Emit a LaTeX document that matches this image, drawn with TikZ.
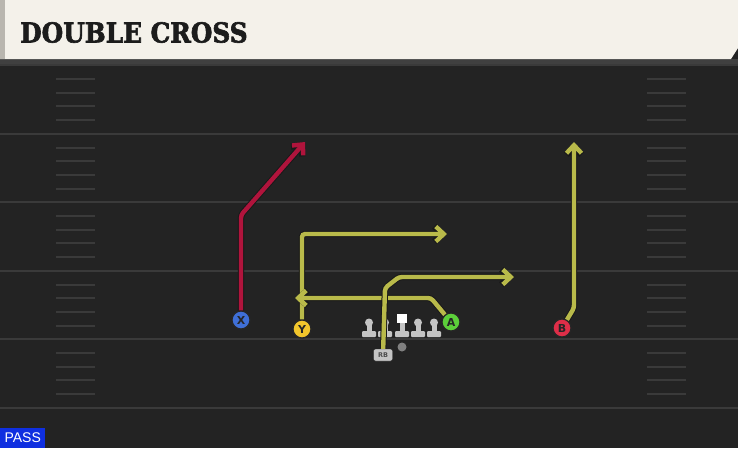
\documentclass[tikz,border=0pt]{standalone}
\usepackage{fontspec}
\setmainfont{DejaVu Sans}
\setsansfont{Liberation Sans}
\newfontfamily\titlefont{DejaVu Serif Bold}[FakeStretch=0.9, FakeBold=2.2]
\usetikzlibrary{arrows.meta}

\definecolor{fieldbg}{HTML}{232323}
\definecolor{yardline}{HTML}{3A3A3A}
\definecolor{headbg}{HTML}{F4F1EA}
\definecolor{headedge}{HTML}{B9B6AF}
\definecolor{titleink}{HTML}{1C1C1C}
\definecolor{xblue}{HTML}{3F6FD6}
\definecolor{yyellow}{HTML}{F2C62C}
\definecolor{agreen}{HTML}{5CCF3A}
\definecolor{bred}{HTML}{DE2E48}
\definecolor{redroute}{HTML}{B0143C}
\definecolor{yroute}{HTML}{B9BA4A}
\definecolor{linegray}{HTML}{C4C4C4}
\definecolor{passblue}{HTML}{0F2FE0}

\tikzset{
  player/.style={circle, draw=black!85, line width=1.2pt, minimum size=18pt, inner sep=0pt,
    font=\bfseries\fontsize{11}{11}\selectfont, text=black!85},
  route/.style={line width=4.4pt, rounded corners=3pt,
    -{Straight Barb[length=8pt, width=15pt]},
    preaction={draw=black!90, line width=6.4pt}},
  lineman/.style={fill=linegray},
  hash/.style={draw=yardline, line width=2pt},
}

\begin{document}
\begin{tikzpicture}[x=1pt, y=-1pt]
\useasboundingbox (0,0) rectangle (738,448);
\fill[fieldbg] (0,0) rectangle (738,448);

% yard lines and hashes
\foreach \yy in {65,133.5,202,270.5,338.5,408}
  \draw[yardline, line width=2pt] (0,\yy) -- (738,\yy);
\foreach \k in {0,...,4}
  \foreach \d in {14,27.5,41,55} {
    \draw[hash] (56,65+68.6*\k+\d) -- (95,65+68.6*\k+\d);
    \draw[hash] (647,65+68.6*\k+\d) -- (686,65+68.6*\k+\d);
  }

% header
\fill[black!75] (0,59) rectangle (738,64);
\fill[headbg] (0,0) -- (738,0) -- (738,48) -- (731,59) -- (0,59) -- cycle;
\fill[headedge] (0,0) rectangle (5,59);
\node[anchor=base west, inner sep=0pt, text=titleink,
  font=\titlefont\fontsize{27.5}{27.5}\selectfont] (title) at (20,42.5) {DOUBLE CROSS};

% offensive line
\foreach \lx in {369,385,418,434} {
  \fill[lineman] (\lx-2.5,323) rectangle (\lx+2.5,333);
  \fill[lineman] (\lx,322.5) circle (4);
  \fill[lineman, rounded corners=1pt] (\lx-7,331) rectangle (\lx+7,337);
}
\fill[lineman] (399.5,321) rectangle (404.5,333);
\fill[white] (397,313.5) rectangle (407,323);
\fill[lineman, rounded corners=1pt] (395,331) rectangle (409,337);

% players
\node[player, fill=xblue] (X) at (241,320) {X};
\node[player, fill=yyellow] (Y) at (302,329) {Y};
\node[player, fill=agreen] (A) at (451,322) {A};
\node[player, fill=bred] (B) at (562,328) {B};
\node[circle, fill=black!50, minimum size=9pt, inner sep=0pt] (QB) at (402,347) {};
\node[draw=black!85, fill=linegray, rounded corners=2pt, minimum width=19pt, minimum height=12pt,
  inner sep=0pt, font=\bfseries\fontsize{6.5}{6.5}\selectfont, text=black!70] (RB) at (383,355) {RB};

% routes
\draw[route, draw=redroute] (X) -- (241,215) -- (305,142);
\draw[route, draw=yroute] (Y) -- (302,234) -- (447,234);
\draw[route, draw=yroute] (A) -- (431,298) -- (295,298);
\draw[route, draw=yroute] (RB) -- (385,288) -- (399,277) -- (514,277);
\draw[route, draw=yroute] (B) -- (574,308) -- (574,142);

% play tag
\node[anchor=south west, fill=passblue, text=white, minimum width=45pt, minimum height=20pt,
  inner sep=0pt, font=\sffamily\fontsize{14}{14}\selectfont] (pass) at (0,448) {PASS};
\end{tikzpicture}
\end{document}
